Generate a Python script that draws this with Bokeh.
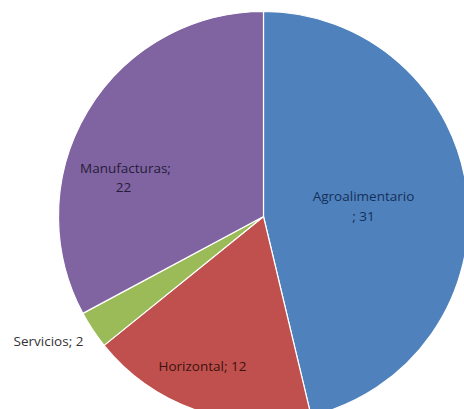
import math
from bokeh.plotting import figure
from bokeh.models import ColumnDataSource, Range1d
from bokeh.core.properties import value
from bokeh.embed import file_html
from bokeh.resources import INLINE

categories = ["Agroalimentario", "Horizontal", "Servicios", "Manufacturas"]
values = [31, 12, 2, 22]
colors = ["#4F81BD", "#C0504D", "#9BBB59", "#8064A2"]
label_colors = ["#14305A", "#3E1210", "#333333", "#261C38"]

W, H = 464, 409
CX, CY, R = 263, 216, 205

total = sum(values)
starts, ends = [], []
cum = 0
for v in values:
    starts.append(math.pi / 2 - cum / total * 2 * math.pi)
    cum += v
    ends.append(math.pi / 2 - cum / total * 2 * math.pi)

src = ColumnDataSource(dict(x=[CX] * 4, y=[H - CY] * 4, start=starts, end=ends, color=colors))

p = figure(width=W, height=H, output_backend="svg", toolbar_location=None,
           x_range=Range1d(0, W), y_range=Range1d(0, H), min_border=0)
p.axis.visible = False
p.grid.visible = False
p.outline_line_color = None
p.background_fill_color = "white"

p.wedge(x="x", y="y", radius=R, radius_units="screen", start_angle="start", end_angle="end",
        direction="clock", fill_color="color", line_color="white", line_width=1.2, source=src)

# label text lines (pixel anchor: x, y from top)
lab_lines = [
    ("Agroalimentario", 363, 195, 0),
    ("; 31", 363, 215, 0),
    ("Horizontal; 12", 202, 365, 1),
    ("Servicios; 2", 48, 340, 2),
    ("Manufacturas;", 125, 167, 3),
    ("22", 123, 187, 3),
]
lsrc = ColumnDataSource(dict(
    x=[l[1] for l in lab_lines],
    y=[H - l[2] for l in lab_lines],
    text=[l[0] for l in lab_lines],
    color=[label_colors[l[3]] for l in lab_lines],
))
p.text(x="x", y="y", text="text", source=lsrc, text_color="color",
       text_align="center", text_baseline="middle",
       text_font=value("Open Sans"), text_font_size="13.5px")

open("out.html", "w").write(file_html(p, INLINE))
